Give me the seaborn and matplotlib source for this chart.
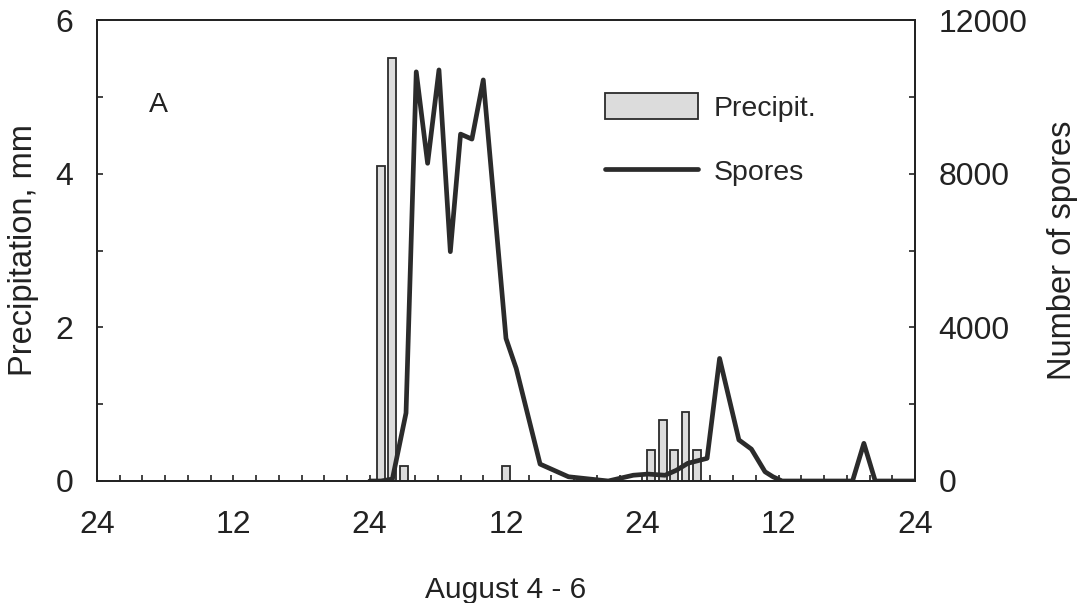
import matplotlib
matplotlib.use("Agg")
import matplotlib.pyplot as plt
import seaborn as sns
from matplotlib.patches import Patch
from matplotlib.lines import Line2D
from matplotlib.ticker import MultipleLocator, FixedLocator, FixedFormatter

# Precipitation bars (hours from start of Aug 4, mm)
precip_hours = [25, 26, 27, 36, 48.8, 49.8, 50.8, 51.8, 52.8]
precip_mm = [4.1, 5.5, 0.2, 0.2, 0.4, 0.8, 0.4, 0.9, 0.4]

# Spore counts line
spore_hours = [24, 25, 26, 27.2, 28.1, 29.1, 30.1, 31.1, 32, 33, 34, 36, 36.9, 39,
               41.5, 43.4, 45, 47.2, 48.5, 50, 51, 52, 53.7, 54.8, 56.5, 57.6,
               58.8, 59.5, 60.3, 66.5, 67.5, 68.5, 72]
spore_counts = [0, 0, 50, 1770, 10650, 8270, 10700, 5970, 9030, 8900, 10440, 3710,
                2930, 440, 110, 50, 0, 150, 180, 150, 280, 460, 590, 3190, 1070,
                830, 240, 110, 0, 0, 980, 0, 0]

x_tick_pos = [0, 12, 24, 36, 48, 60, 72]
x_tick_labels = ["24", "12", "24", "12", "24", "12", "24"]

sns.set_theme(style="white")
plt.rcParams['font.family'] = ['Liberation Sans', 'DejaVu Sans']

tick_fs = 23
label_fs = 23.5
legend_fs = 20.5
dark = "#2b2b2b"
ink = "#222222"

fig = plt.figure(figsize=(10.84, 6.03), dpi=100)
ax1 = fig.add_axes([97 / 1084, 1 - 481 / 603, 818 / 1084, 461 / 603])

sns.barplot(x=precip_hours, y=precip_mm, native_scale=True, width=0.7,
            color="#dcdcdc", saturation=1, edgecolor=dark, linewidth=1.3, ax=ax1)

ax2 = ax1.twinx()
sns.lineplot(x=spore_hours, y=spore_counts, ax=ax2, color=dark, linewidth=3.4)

ax1.set_xlim(0, 72)
ax1.set_ylim(0, 6)
ax2.set_ylim(0, 12000)

ax1.xaxis.set_major_locator(FixedLocator(x_tick_pos))
ax1.xaxis.set_major_formatter(FixedFormatter(x_tick_labels))
ax1.xaxis.set_minor_locator(MultipleLocator(2))
ax1.yaxis.set_major_locator(MultipleLocator(2))
ax1.yaxis.set_minor_locator(MultipleLocator(1))
ax2.yaxis.set_major_locator(MultipleLocator(4000))
ax2.yaxis.set_minor_locator(MultipleLocator(2000))

for ax in (ax1, ax2):
    for sp in ax.spines.values():
        sp.set_color(ink)
        sp.set_linewidth(1.3)
    ax.tick_params(which="both", direction="in", length=4, width=1.2, color=ink,
                   labelsize=tick_fs, labelcolor=ink)
    ax.set_xlabel("")
ax1.tick_params(axis="x", which="both", pad=21, top=False, bottom=True)
ax1.tick_params(axis="y", which="both", pad=17, left=True, right=False)
ax2.tick_params(axis="y", which="both", pad=17, right=True, left=False)

ax1.set_xlabel("August 4 - 6", fontsize=21.5, color=ink, labelpad=26)
ax1.set_ylabel("Precipitation, mm", fontsize=label_fs, color=ink, labelpad=12)
ax2.set_ylabel("Number of spores", fontsize=label_fs, color=ink, labelpad=14)

ax1.text(0.063, 0.80, "A", transform=ax1.transAxes, fontsize=legend_fs, color=ink)

handles = [Patch(facecolor="#dcdcdc", edgecolor=dark, linewidth=1.3),
           Line2D([0], [0], color=dark, linewidth=3.4)]
ax2.legend(handles, ["Precipit.", "Spores"], loc="upper left",
           bbox_to_anchor=(0.621, 0.842), frameon=False, fontsize=legend_fs,
           borderpad=0, borderaxespad=0, handlelength=3.25, handleheight=1.05,
           labelspacing=1.25, handletextpad=0.55)

fig.savefig("out.png", dpi=100, facecolor="white")
